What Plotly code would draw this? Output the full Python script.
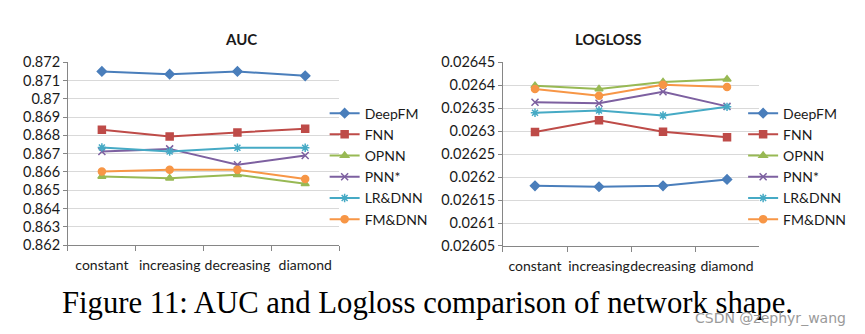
import plotly.graph_objects as go

categories = ["constant", "increasing", "decreasing", "diamond"]
models = ["DeepFM", "FNN", "OPNN", "PNN*", "LR&DNN", "FM&DNN"]

auc_deepfm = [0.87149, 0.87134, 0.87149, 0.87125]
auc_fnn = [0.86830, 0.86794, 0.86816, 0.86836]
auc_opnn = [0.86575, 0.86566, 0.86584, 0.86535]
auc_pnn = [0.86712, 0.86726, 0.86639, 0.86690]
auc_lrdnn = [0.86734, 0.86712, 0.86732, 0.86732]
auc_fmdnn = [0.86603, 0.86612, 0.86612, 0.86561]

ll_deepfm = [0.026181, 0.026179, 0.026181, 0.026195]
ll_fnn = [0.026298, 0.026324, 0.026299, 0.026287]
ll_opnn = [0.026399, 0.026392, 0.026407, 0.026413]
ll_pnn = [0.026363, 0.026361, 0.026386, 0.026354]
ll_lrdnn = [0.026340, 0.026345, 0.026334, 0.026353]
ll_fmdnn = [0.026392, 0.026377, 0.026401, 0.026396]

auc_ticks = [0.862, 0.863, 0.864, 0.865, 0.866, 0.867, 0.868, 0.869, 0.87, 0.871, 0.872]
auc_ticktext = ["0.862", "0.863", "0.864", "0.865", "0.866", "0.867", "0.868", "0.869", "0.87", "0.871", "0.872"]
ll_ticks = [0.02605, 0.0261, 0.02615, 0.0262, 0.02625, 0.0263, 0.02635, 0.0264, 0.02645]
ll_ticktext = ["0.02605", "0.0261", "0.02615", "0.0262", "0.02625", "0.0263", "0.02635", "0.0264", "0.02645"]

colors = ["#4A7EBB", "#BE4B48", "#98B954", "#7D60A0", "#46AAC5", "#F79646"]
symbols = ["diamond", "square", "triangle-up", "x-thin-open", "asterisk-open", "circle"]
sizes = [7, 7, 7, 7, 7, 7]

auc_series = [auc_deepfm, auc_fnn, auc_opnn, auc_pnn, auc_lrdnn, auc_fmdnn]
ll_series = [ll_deepfm, ll_fnn, ll_opnn, ll_pnn, ll_lrdnn, ll_fmdnn]

FONT = "Lato"
TXT = "#1A1A1A"
fig = go.Figure()
for i, name in enumerate(models):
    fig.add_trace(go.Scatter(
        x=categories, y=auc_series[i], name=name, mode="lines+markers",
        line=dict(color=colors[i], width=2),
        marker=dict(symbol=symbols[i], size=sizes[i], color=colors[i],
                    line=dict(color=colors[i], width=1.5)),
        xaxis="x", yaxis="y", legend="legend"))
for i, name in enumerate(models):
    fig.add_trace(go.Scatter(
        x=categories, y=ll_series[i], name=name, mode="lines+markers",
        line=dict(color=colors[i], width=2),
        marker=dict(symbol=symbols[i], size=sizes[i], color=colors[i],
                    line=dict(color=colors[i], width=1.5)),
        xaxis="x2", yaxis="y2", legend="legend2"))

axis_font = dict(family=FONT, size=14.5, color=TXT)
xcommon = dict(type="category", range=[-0.5, 3.5], showgrid=False, showline=True,
               linecolor="#868686", linewidth=1, ticks="outside", tickson="boundaries",
               ticklen=5, tickcolor="#868686", tickfont=dict(family=FONT, size=14, color=TXT),
               tickangle=0, ticklabelstandoff=7, automargin=False, fixedrange=True)
ycommon = dict(showgrid=True, gridcolor="#D9D9D9", gridwidth=1, showline=True,
               linecolor="#868686", linewidth=1, ticks="outside", ticklen=4,
               tickcolor="#868686", tickfont=axis_font, zeroline=False,
               automargin=False, fixedrange=True)

legend_font = dict(family=FONT, size=14, color=TXT)

fig.update_layout(
    width=865, height=334, margin=dict(l=0, r=0, t=0, b=0, autoexpand=False),
    paper_bgcolor="white", plot_bgcolor="white",
    font=dict(family=FONT, color=TXT),
    xaxis=dict(domain=[0.0786, 0.392], anchor="y", **xcommon),
    yaxis=dict(domain=[0.266, 0.814], anchor="x", range=[0.862, 0.872],
               tickvals=auc_ticks, ticktext=auc_ticktext, **ycommon),
    xaxis2=dict(domain=[0.5815, 0.8775], anchor="y2", **xcommon),
    yaxis2=dict(domain=[0.2635, 0.8135], anchor="x2", range=[0.02605, 0.02645],
                tickvals=ll_ticks, ticktext=ll_ticktext, **ycommon),
    legend=dict(x=0.3753, y=0.708, xanchor="left", yanchor="top", font=legend_font,
                bgcolor="rgba(0,0,0,0)", itemwidth=30, tracegroupgap=0),
    legend2=dict(x=0.8591, y=0.708, xanchor="left", yanchor="top", font=legend_font,
                 bgcolor="rgba(0,0,0,0)", itemwidth=30, tracegroupgap=0),
    showlegend=True,
    annotations=[
        dict(text="<b>AUC</b>", x=223 / 865, y=1 - 39 / 334, xref="paper", yref="paper",
             yanchor="middle", showarrow=False, font=dict(family=FONT, size=15, color=TXT)),
        dict(text="<b>LOGLOSS</b>", x=643 / 865, y=1 - 39 / 334, xref="paper", yref="paper",
             yanchor="middle", showarrow=False, font=dict(family=FONT, size=15, color=TXT)),
        dict(text="Figure 11: AUC and Logloss comparison of network shape.",
             x=60 / 865, y=1 - 303 / 334, xref="paper", yref="paper", xanchor="left",
             yanchor="middle", showarrow=False,
             font=dict(family="Liberation Serif", size=30.7, color="#000000")),
        dict(text="CSDN @zephyr_wang", x=848 / 865, y=1 - 318 / 334, xref="paper", yref="paper",
             xanchor="right", yanchor="middle", showarrow=False,
             font=dict(family="DejaVu Sans", size=14, color="#9A9A9A")),
    ],
)

fig.write_html("out.html")
